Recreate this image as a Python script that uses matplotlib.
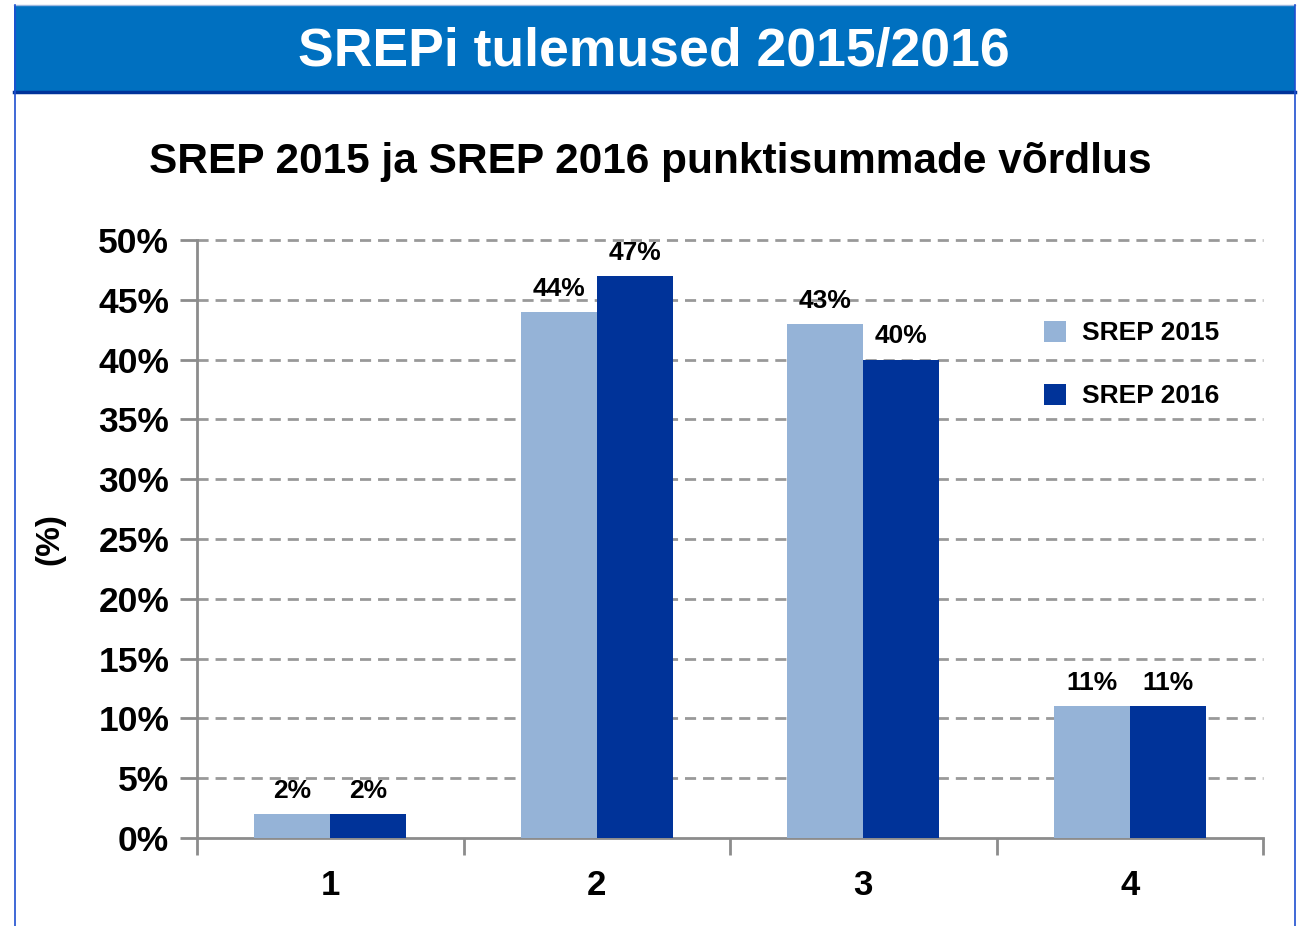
import numpy as np
import matplotlib
matplotlib.use("Agg")
import matplotlib.pyplot as plt
from matplotlib.patches import Rectangle
from matplotlib.lines import Line2D

plt.rcParams['font.family'] = ['Liberation Sans', 'DejaVu Sans']
plt.rcParams['font.weight'] = 'bold'

categories = ["1", "2", "3", "4"]
srep_2015 = [2, 44, 43, 11]
srep_2016 = [2, 47, 40, 11]
series_names = ["SREP 2015", "SREP 2016"]
yticks = [0, 5, 10, 15, 20, 25, 30, 35, 40, 45, 50]

c15 = "#95B3D7"
c16 = "#003399"
grey = "#8C8C8C"

W, H = 1302, 926
fig = plt.figure(figsize=(W / 100, H / 100), dpi=100)

# header band + frame
fig.patches.append(Rectangle((14 / W, 1 - 93 / H), (1295 - 14) / W, 88 / H,
                             transform=fig.transFigure, facecolor="#0070C0",
                             edgecolor="none", zorder=0))
fig.lines.append(Line2D([14 / W, 1295 / W], [1 - 92 / H, 1 - 92 / H],
                        transform=fig.transFigure, color="#00339A", lw=2.5))
fig.lines.append(Line2D([14 / W, 1295 / W], [1 - 5 / H, 1 - 5 / H],
                        transform=fig.transFigure, color="#9DB8E0", lw=1))
for xx in (14.5, 1294.5):
    fig.lines.append(Line2D([xx / W, xx / W], [0, 1 - 5 / H],
                            transform=fig.transFigure, color="#1F4FD0", lw=1.2))
fig.text(654 / W, 1 - 52 / H, "SREPi tulemused 2015/2016", color="white",
         fontsize=38.5, fontweight="bold", ha="center", va="center")
fig.text(650 / W, 1 - 162 / H, "SREP 2015 ja SREP 2016 punktisummade võrdlus",
         color="black", fontsize=30.5, fontweight="bold", ha="center", va="center")

ax = fig.add_axes([197 / W, 1 - 838 / H, (1263 - 197) / W, (838 - 240) / H])
x = np.arange(len(categories))
bw = 0.285
b1 = ax.bar(x - bw / 2, srep_2015, bw, color=c15, label=series_names[0], zorder=3)
b2 = ax.bar(x + bw / 2, srep_2016, bw, color=c16, label=series_names[1], zorder=3)
for bars, vals in ((b1, srep_2015), (b2, srep_2016)):
    for r, v in zip(bars, vals):
        ax.annotate(f"{v}%", (r.get_x() + r.get_width() / 2, v),
                    xytext=(0, 8), textcoords="offset points",
                    ha="center", va="bottom", fontsize=19, fontweight="bold")

ax.set_xlim(-0.5, len(categories) - 0.5)
ax.set_ylim(0, 50)
ax.set_yticks(yticks)
ax.set_yticklabels([f"{t}%" for t in yticks], fontsize=25.5, fontweight="bold")
ax.set_xticks(x)
ax.set_xticklabels(categories, fontsize=25, fontweight="bold")
ax.set_xticks(np.arange(len(categories) + 1) - 0.5, minor=True)
ax.tick_params(axis="x", which="major", length=0, pad=22)
ax.tick_params(axis="x", which="minor", length=12, width=2, color=grey, direction="out")
ax.tick_params(axis="y", length=12, width=2, color=grey, pad=8)
for t in yticks[1:]:
    ax.axhline(t, color="#999999", lw=2, ls=(0, (4, 2.5)), zorder=1, clip_on=False)
for s in ("top", "right"):
    ax.spines[s].set_visible(False)
for s in ("left", "bottom"):
    ax.spines[s].set_color(grey)
    ax.spines[s].set_linewidth(2)
ax.set_ylabel("(%)", fontsize=24, fontweight="bold", labelpad=24)

ax.legend(loc="upper left", bbox_to_anchor=(1020 / W, 1 - 297 / H),
          bbox_transform=fig.transFigure, frameon=False, fontsize=19,
          handlelength=0.85, handleheight=0.85, labelspacing=1.45, handletextpad=0.6)

fig.savefig("out.png", dpi=100, facecolor="white")
